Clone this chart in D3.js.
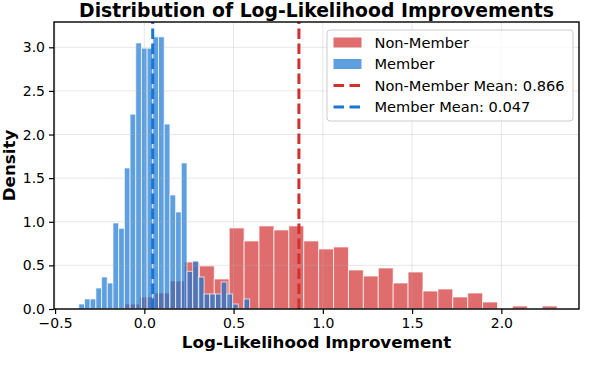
<!DOCTYPE html>
<html>
<head>
<meta charset="utf-8">
<script src="https://cdn.jsdelivr.net/npm/d3@7"></script>
<style>
  body { margin:0; background:#fff; }
  svg { display:block; font-family:"DejaVu Sans", sans-serif; }
</style>
</head>
<body>
<div class="chart"></div>
<script>
// histogram densities
var memberStart = -0.367, memberBinWidth = 0.0319;
var memberDensity = [0.057,0.115,0.115,0.241,0.367,0.298,0.986,0.925,1.617,2.233,
                     3.05,2.99,2.99,3.12,3.12,2.12,1.307,1.112,1.674,0.432,
                     0.55,0.367,0.172,0.172,0.172,0.31,0.172,0.057,0,0.115];
var nonMemberStart = -0.109, nonMemberBinWidth = 0.0835;
var nonMemberDensity = [0.057,0.138,0.183,0.321,0.539,0.493,0.344,0.929,0.78,0.952,
                        0.906,0.952,0.78,0.688,0.711,0.447,0.378,0.47,0.298,0.424,
                        0.206,0.229,0.138,0.183,0.08,0,0.034,0,0.034];
var memberMean = 0.047, nonMemberMean = 0.866;
var xTicks = [-0.5,0,0.5,1.0,1.5,2.0];
var yTicks = [0,0.5,1.0,1.5,2.0,2.5,3.0];

var W = 608, H = 380;
var box = {left:54, top:22, right:579, bottom:309};
var red = '#D32F2F', blue = '#1976D2';

var svg = d3.select('.chart').append('svg').attr('width',W).attr('height',H);

var x = d3.scaleLinear().domain([-0.506,2.435]).range([box.left,box.right]);
var y = d3.scaleLinear().domain([0,3.29]).range([box.bottom,box.top]);

function bins(start, w, dens){
  return dens.map(function(d,i){ return {x0:start+i*w, x1:start+(i+1)*w, v:d}; })
             .filter(function(b){ return b.v > 0; });
}

function drawHist(data, color){
  svg.append('g').selectAll('rect').data(data).enter().append('rect')
    .attr('x',function(b){ return x(b.x0); })
    .attr('width',function(b){ return x(b.x1)-x(b.x0); })
    .attr('y',function(b){ return y(b.v); })
    .attr('height',function(b){ return y(0)-y(b.v); })
    .style('fill',color).style('fill-opacity',0.7)
    .style('stroke','#fff').style('stroke-opacity',0.7).style('stroke-width',1);
}
drawHist(bins(nonMemberStart,nonMemberBinWidth,nonMemberDensity), red);
drawHist(bins(memberStart,memberBinWidth,memberDensity), blue);

// grid
var grid = svg.append('g').style('stroke','#b0b0b0').style('stroke-opacity',0.3).style('stroke-width',1);
grid.selectAll('.gx').data(xTicks).enter().append('line')
  .attr('x1',function(d){ return x(d); }).attr('x2',function(d){ return x(d); })
  .attr('y1',box.top).attr('y2',box.bottom);
grid.selectAll('.gy').data(yTicks).enter().append('line')
  .attr('y1',function(d){ return y(d); }).attr('y2',function(d){ return y(d); })
  .attr('x1',box.left).attr('x2',box.right);

// mean lines
[[nonMemberMean,red],[memberMean,blue]].forEach(function(m){
  svg.append('line')
    .attr('x1',x(m[0])).attr('x2',x(m[0]))
    .attr('y1',box.bottom).attr('y2',box.top)
    .style('stroke',m[1]).style('stroke-width',3).style('stroke-dasharray','10.5,4.5');
});

// axes
var fmt = function(d){ return d3.format('.1f')(d).replace('-','\u2212'); };
var xAxis = svg.append('g').attr('transform','translate(0,'+box.bottom+')')
  .call(d3.axisBottom(x).tickValues(xTicks).tickFormat(fmt).tickSizeOuter(0).tickSize(5).tickPadding(4));
var yAxis = svg.append('g').attr('transform','translate('+box.left+',0)')
  .call(d3.axisLeft(y).tickValues(yTicks).tickFormat(fmt).tickSizeOuter(0).tickSize(5).tickPadding(4));
[xAxis,yAxis].forEach(function(a){
  a.select('.domain').remove();
  a.selectAll('.tick line').style('stroke','#000').style('stroke-width',1.2);
  a.selectAll('.tick text').style('font-family','DejaVu Sans').style('font-size','14px').style('fill','#000');
});

svg.append('rect').attr('x',box.left).attr('y',box.top)
  .attr('width',box.right-box.left).attr('height',box.bottom-box.top)
  .style('fill','none').style('stroke','#000').style('stroke-width',1.4);

// labels
svg.append('text').attr('x',(box.left+box.right)/2).attr('y',16.5)
  .attr('text-anchor','middle').style('font-weight','bold').style('font-size','18.8px')
  .text('Distribution of Log-Likelihood Improvements');
svg.append('text').attr('x',(box.left+box.right)/2).attr('y',348)
  .attr('text-anchor','middle').style('font-weight','bold').style('font-size','16.7px')
  .text('Log-Likelihood Improvement');
svg.append('text').attr('transform','translate(14.5,'+((box.top+box.bottom)/2)+') rotate(-90)')
  .attr('text-anchor','middle').style('font-weight','bold').style('font-size','16.7px')
  .text('Density');

// legend
var legendItems = [
  {label:'Non-Member', color:red, kind:'patch'},
  {label:'Member', color:blue, kind:'patch'},
  {label:'Non-Member Mean: ' + nonMemberMean.toFixed(3), color:red, kind:'line'},
  {label:'Member Mean: ' + memberMean.toFixed(3), color:blue, kind:'line'}
];
var lg = svg.append('g');
lg.append('rect').attr('x',327).attr('y',30).attr('width',246).attr('height',91).attr('rx',3)
  .style('fill','#fff').style('fill-opacity',0.8).style('stroke','#cccccc').style('stroke-width',1);
var rows = lg.selectAll('.row').data(legendItems).enter().append('g')
  .attr('transform',function(d,i){ return 'translate(333.5,'+(42.5+i*21.5)+')'; });
rows.filter(function(d){ return d.kind==='patch'; }).append('rect')
  .attr('x',0).attr('y',-5).attr('width',28).attr('height',10)
  .style('fill',function(d){ return d.color; }).style('fill-opacity',0.7);
rows.filter(function(d){ return d.kind==='line'; }).append('line')
  .attr('x1',0).attr('x2',28).attr('y1',0).attr('y2',0)
  .style('stroke',function(d){ return d.color; }).style('stroke-width',3).style('stroke-dasharray','10.5,5.5');
rows.append('text').attr('x',41).attr('y',5.2).style('font-size','14.6px')
  .text(function(d){ return d.label; });
</script>
</body>
</html>
